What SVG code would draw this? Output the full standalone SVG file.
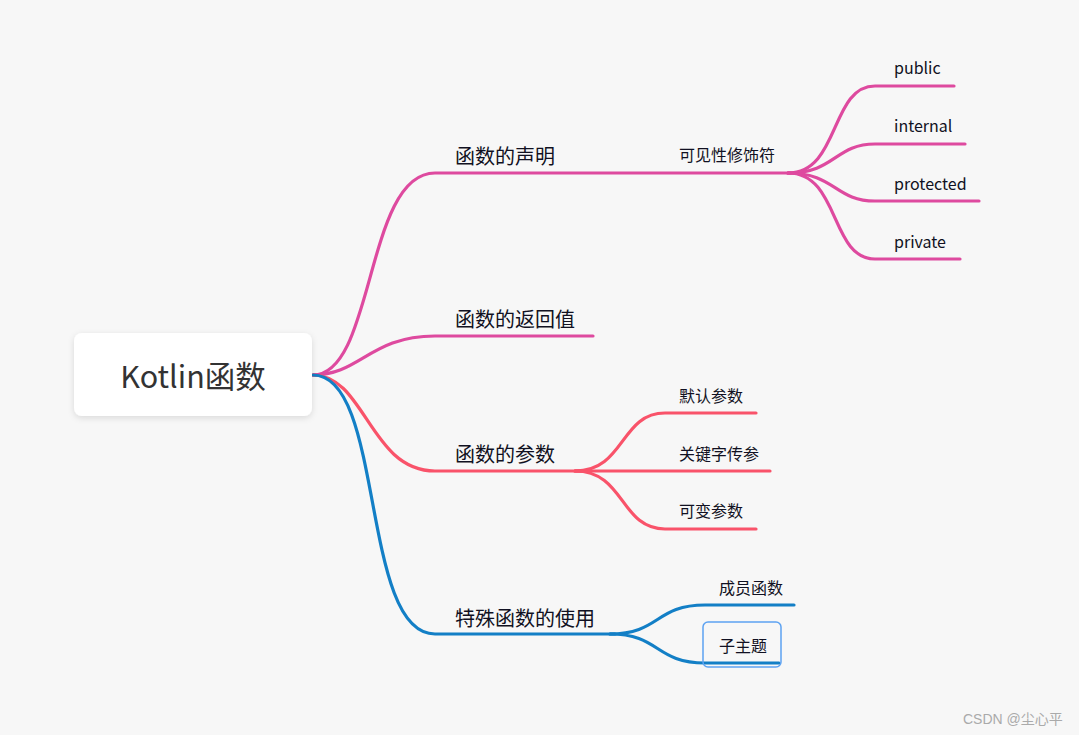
<svg xmlns="http://www.w3.org/2000/svg" width="1079" height="735" viewBox="0 0 1079 735">
<defs>
<filter id="sh" x="-10%" y="-20%" width="120%" height="150%">
<feDropShadow dx="0" dy="2" stdDeviation="3" flood-color="#000" flood-opacity="0.12"/>
</filter>
<style>
.t{font-family:"Noto Sans CJK SC","Open Sans",sans-serif;fill:#111122}
.b{font-size:20px}
.s{font-size:16px}
.pk{stroke:#de4a9f;stroke-width:3.2;fill:none;stroke-linecap:round}
.rd{stroke:#f9536a;stroke-width:3.2;fill:none;stroke-linecap:round}
.bl{stroke:#137fc6;stroke-width:3.2;fill:none;stroke-linecap:round}
</style>
</defs>
<rect width="1079" height="735" fill="#f7f7f7"/>
<g id="connectors">
<path class="pk" d="M313,375 C375,375 365,173 435,173 L790,173"/>
<path class="pk" d="M313,375 C360,375 370,336 435,336 L593,336"/>
<path class="rd" d="M313,375 C365,375 370,471 435,471 L582,471"/>
<path class="bl" d="M313,375 C385,375 360,634 435,634 L615,634"/>
<path class="pk" d="M788,173 C840,173 830,86 875,86 L954,86"/>
<path class="pk" d="M788,173 C835,173 835,144 875,144 L965,144"/>
<path class="pk" d="M788,173 C835,173 835,201 875,201 L979,201"/>
<path class="pk" d="M788,173 C840,173 830,259 875,259 L960,259"/>
<path class="rd" d="M575,471 C625,471 620,413 665,413 L756,413"/>
<path class="rd" d="M575,471 L770,471"/>
<path class="rd" d="M575,471 C625,471 620,529 665,529 L756,529"/>
<path class="bl" d="M610,634 C660,634 655,605 705,605 L794,605"/>
<path class="bl" d="M610,634 C660,634 655,663 705,663 L779,663"/>
</g>
<g id="root">
<rect x="74" y="333" width="238" height="83" rx="8" fill="#fff" filter="url(#sh)"/>
<text x="193" y="388" text-anchor="middle" font-family="Noto Sans CJK SC,Open Sans,sans-serif" font-size="30.5" fill="#333">Kotlin函数</text>
</g>
<g id="n-decl"><text class="t b" x="455" y="164">函数的声明</text></g>
<g id="n-ret"><text class="t b" x="455" y="327">函数的返回值</text></g>
<g id="n-param"><text class="t b" x="455" y="462">函数的参数</text></g>
<g id="n-special"><text class="t b" x="455" y="626">特殊函数的使用</text></g>
<g id="n-vis"><text class="t s" x="679" y="161">可见性修饰符</text></g>
<g id="n-public"><text class="t s" x="894" y="74">public</text></g>
<g id="n-internal"><text class="t s" x="894" y="132">internal</text></g>
<g id="n-protected"><text class="t s" x="894" y="190">protected</text></g>
<g id="n-private"><text class="t s" x="894" y="248">private</text></g>
<g id="n-default"><text class="t s" x="679" y="402">默认参数</text></g>
<g id="n-named"><text class="t s" x="679" y="460">关键字传参</text></g>
<g id="n-vararg"><text class="t s" x="679" y="517">可变参数</text></g>
<g id="n-member"><text class="t s" x="719" y="594">成员函数</text></g>
<g id="n-sub">
<rect x="703" y="622" width="78" height="45" rx="5" fill="none" stroke="#5ea3f2" stroke-width="1.5"/>
<text class="t s" x="719" y="652">子主题</text>
</g>
<text x="963" y="724" font-family="Liberation Sans,Noto Sans CJK SC,sans-serif" font-size="14" fill="#aaa">CSDN @尘心平</text>
</svg>
